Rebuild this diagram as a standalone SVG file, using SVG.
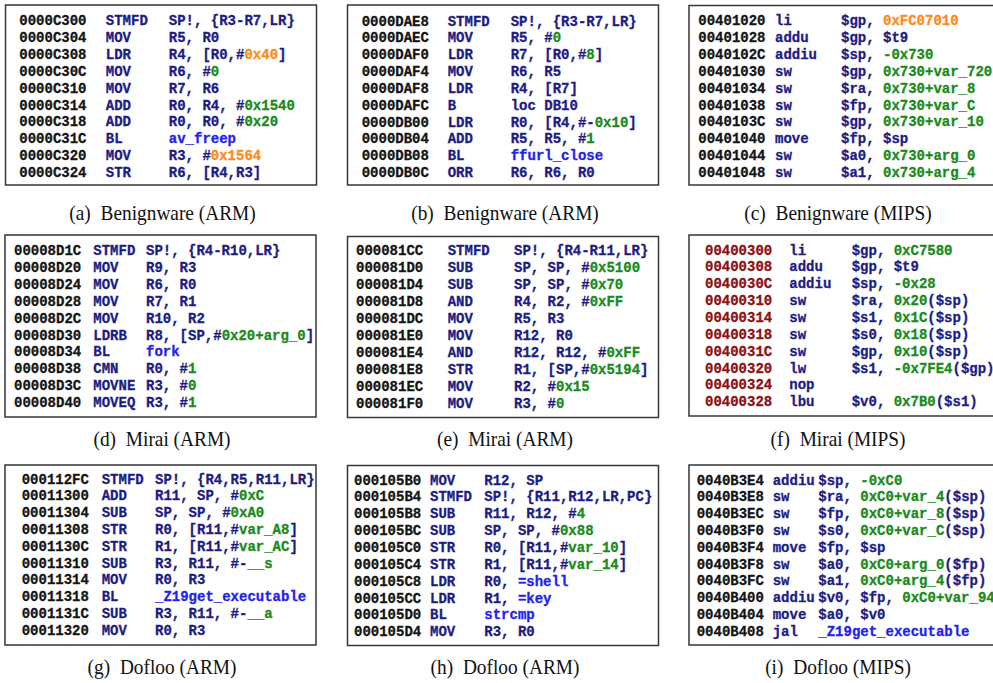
<svg xmlns="http://www.w3.org/2000/svg" width="993" height="683" viewBox="0 0 993 683">
  <style>
    .box { fill: #ffffff; stroke: #363636; stroke-width: 1.5; }
    .code { font-family: "Liberation Mono", "DejaVu Sans Mono", monospace; font-size: 14px; font-weight: bold; fill: #1c1c84; stroke: #1c1c84; stroke-width: 0.3; }
    .ad { fill: #141414; stroke: #141414; }
    .adr { fill: #8a1212; stroke: #8a1212; }
    .n { fill: #1a8a1a; stroke: #1a8a1a; }
    .o { fill: #ff8a1c; stroke: #ff8a1c; }
    .f { fill: #2222ee; stroke: #2222ee; }
    .cap { font-family: "Liberation Serif", "Times New Roman", serif; font-size: 21.5px; fill: #111111; }
  </style>
  <rect width="993" height="683" fill="#ffffff"/>

  <!-- (a) Benignware, ARM -->
  <g id="panel-a">
    <rect class="box" x="5.5" y="5" width="311" height="180"/>
    <g class="code" transform="translate(19.3,25.3)">
      <text y="0"><tspan class="ad">0000C300</tspan><tspan x="86.5">STMFD</tspan><tspan x="149.5">SP!, {R3-R7,LR}</tspan></text>
      <text y="16.85"><tspan class="ad">0000C304</tspan><tspan x="86.5">MOV</tspan><tspan x="149.5">R5, R0</tspan></text>
      <text y="33.7"><tspan class="ad">0000C308</tspan><tspan x="86.5">LDR</tspan><tspan x="149.5">R4, [R0,#<tspan class="o">0x40</tspan>]</tspan></text>
      <text y="50.55"><tspan class="ad">0000C30C</tspan><tspan x="86.5">MOV</tspan><tspan x="149.5">R6, #<tspan class="n">0</tspan></tspan></text>
      <text y="67.4"><tspan class="ad">0000C310</tspan><tspan x="86.5">MOV</tspan><tspan x="149.5">R7, R6</tspan></text>
      <text y="84.25"><tspan class="ad">0000C314</tspan><tspan x="86.5">ADD</tspan><tspan x="149.5">R0, R4, #<tspan class="n">0x1540</tspan></tspan></text>
      <text y="101.1"><tspan class="ad">0000C318</tspan><tspan x="86.5">ADD</tspan><tspan x="149.5">R0, R0, #<tspan class="n">0x20</tspan></tspan></text>
      <text y="117.95"><tspan class="ad">0000C31C</tspan><tspan x="86.5">BL</tspan><tspan x="149.5" class="f">av_freep</tspan></text>
      <text y="134.8"><tspan class="ad">0000C320</tspan><tspan x="86.5">MOV</tspan><tspan x="149.5">R3, #<tspan class="o">0x1564</tspan></tspan></text>
      <text y="151.65"><tspan class="ad">0000C324</tspan><tspan x="86.5">STR</tspan><tspan x="149.5">R6, [R4,R3]</tspan></text>
    </g>
    <text class="cap" transform="translate(162.5,220) scale(0.9,1)" text-anchor="middle">(a)<tspan dx="5.5"> Benignware (ARM)</tspan></text>
  </g>

  <!-- (b) Benignware, ARM -->
  <g id="panel-b">
    <rect class="box" x="347.5" y="5" width="311" height="180"/>
    <g class="code" transform="translate(361.7,25.5)">
      <text y="0"><tspan class="ad">0000DAE8</tspan><tspan x="86">STMFD</tspan><tspan x="149">SP!, {R3-R7,LR}</tspan></text>
      <text y="16.85"><tspan class="ad">0000DAEC</tspan><tspan x="86">MOV</tspan><tspan x="149">R5, #<tspan class="n">0</tspan></tspan></text>
      <text y="33.7"><tspan class="ad">0000DAF0</tspan><tspan x="86">LDR</tspan><tspan x="149">R7, [R0,#<tspan class="n">8</tspan>]</tspan></text>
      <text y="50.55"><tspan class="ad">0000DAF4</tspan><tspan x="86">MOV</tspan><tspan x="149">R6, R5</tspan></text>
      <text y="67.4"><tspan class="ad">0000DAF8</tspan><tspan x="86">LDR</tspan><tspan x="149">R4, [R7]</tspan></text>
      <text y="84.25"><tspan class="ad">0000DAFC</tspan><tspan x="86">B</tspan><tspan x="149">loc DB10</tspan></text>
      <text y="101.1"><tspan class="ad">0000DB00</tspan><tspan x="86">LDR</tspan><tspan x="149">R0, [R4,#-<tspan class="n">0x10</tspan>]</tspan></text>
      <text y="117.95"><tspan class="ad">0000DB04</tspan><tspan x="86">ADD</tspan><tspan x="149">R5, R5, #<tspan class="n">1</tspan></tspan></text>
      <text y="134.8"><tspan class="ad">0000DB08</tspan><tspan x="86">BL</tspan><tspan x="149" class="f">ffurl_close</tspan></text>
      <text y="151.65"><tspan class="ad">0000DB0C</tspan><tspan x="86">ORR</tspan><tspan x="149">R6, R6, R0</tspan></text>
    </g>
    <text class="cap" transform="translate(505,220) scale(0.9,1)" text-anchor="middle">(b)<tspan dx="5.5"> Benignware (ARM)</tspan></text>
  </g>

  <!-- (c) Benignware, MIPS -->
  <g id="panel-c">
    <rect class="box" x="689" y="5.5" width="320" height="179.5"/>
    <g class="code" transform="translate(698.3,25.3)">
      <text y="0"><tspan class="ad">00401020</tspan><tspan x="76.7">li</tspan><tspan x="142.7">$gp, <tspan class="o">0xFC07010</tspan></tspan></text>
      <text y="16.85"><tspan class="ad">00401028</tspan><tspan x="76.7">addu</tspan><tspan x="142.7">$gp, $t9</tspan></text>
      <text y="33.7"><tspan class="ad">0040102C</tspan><tspan x="76.7">addiu</tspan><tspan x="142.7">$sp, <tspan class="n">-0x730</tspan></tspan></text>
      <text y="50.55"><tspan class="ad">00401030</tspan><tspan x="76.7">sw</tspan><tspan x="142.7">$gp, <tspan class="n">0x730+var_720</tspan></tspan></text>
      <text y="67.4"><tspan class="ad">00401034</tspan><tspan x="76.7">sw</tspan><tspan x="142.7">$ra, <tspan class="n">0x730+var_8</tspan></tspan></text>
      <text y="84.25"><tspan class="ad">00401038</tspan><tspan x="76.7">sw</tspan><tspan x="142.7">$fp, <tspan class="n">0x730+var_C</tspan></tspan></text>
      <text y="101.1"><tspan class="ad">0040103C</tspan><tspan x="76.7">sw</tspan><tspan x="142.7">$gp, <tspan class="n">0x730+var_10</tspan></tspan></text>
      <text y="117.95"><tspan class="ad">00401040</tspan><tspan x="76.7">move</tspan><tspan x="142.7">$fp, $sp</tspan></text>
      <text y="134.8"><tspan class="ad">00401044</tspan><tspan x="76.7">sw</tspan><tspan x="142.7">$a0, <tspan class="n">0x730+arg_0</tspan></tspan></text>
      <text y="151.65"><tspan class="ad">00401048</tspan><tspan x="76.7">sw</tspan><tspan x="142.7">$a1, <tspan class="n">0x730+arg_4</tspan></tspan></text>
    </g>
    <text class="cap" transform="translate(838,220) scale(0.9,1)" text-anchor="middle">(c)<tspan dx="5.5"> Benignware (MIPS)</tspan></text>
  </g>

  <!-- (d) Mirai, ARM -->
  <g id="panel-d">
    <rect class="box" x="5" y="235" width="311" height="182"/>
    <g class="code" transform="translate(14,255.3)">
      <text y="0"><tspan class="ad">00008D1C</tspan><tspan x="79.3">STMFD</tspan><tspan x="132">SP!, {R4-R10,LR}</tspan></text>
      <text y="16.85"><tspan class="ad">00008D20</tspan><tspan x="79.3">MOV</tspan><tspan x="132">R9, R3</tspan></text>
      <text y="33.7"><tspan class="ad">00008D24</tspan><tspan x="79.3">MOV</tspan><tspan x="132">R6, R0</tspan></text>
      <text y="50.55"><tspan class="ad">00008D28</tspan><tspan x="79.3">MOV</tspan><tspan x="132">R7, R1</tspan></text>
      <text y="67.4"><tspan class="ad">00008D2C</tspan><tspan x="79.3">MOV</tspan><tspan x="132">R10, R2</tspan></text>
      <text y="84.25"><tspan class="ad">00008D30</tspan><tspan x="79.3">LDRB</tspan><tspan x="132">R8, [SP,#<tspan class="n">0x20+arg_0</tspan>]</tspan></text>
      <text y="101.1"><tspan class="ad">00008D34</tspan><tspan x="79.3">BL</tspan><tspan x="132" class="f">fork</tspan></text>
      <text y="117.95"><tspan class="ad">00008D38</tspan><tspan x="79.3">CMN</tspan><tspan x="132">R0, #<tspan class="n">1</tspan></tspan></text>
      <text y="134.8"><tspan class="ad">00008D3C</tspan><tspan x="79.3">MOVNE</tspan><tspan x="132">R3, #<tspan class="n">0</tspan></tspan></text>
      <text y="151.65"><tspan class="ad">00008D40</tspan><tspan x="79.3">MOVEQ</tspan><tspan x="132">R3, #<tspan class="n">1</tspan></tspan></text>
    </g>
    <text class="cap" transform="translate(162,446) scale(0.9,1)" text-anchor="middle">(d)<tspan dx="5.5"> Mirai (ARM)</tspan></text>
  </g>

  <!-- (e) Mirai, ARM -->
  <g id="panel-e">
    <rect class="box" x="347.5" y="236.5" width="311" height="181"/>
    <g class="code" transform="translate(356,255.3)">
      <text y="0"><tspan class="ad">000081CC</tspan><tspan x="91.7">STMFD</tspan><tspan x="158">SP!, {R4-R11,LR}</tspan></text>
      <text y="16.9"><tspan class="ad">000081D0</tspan><tspan x="91.7">SUB</tspan><tspan x="158">SP, SP, #<tspan class="n">0x5100</tspan></tspan></text>
      <text y="33.9"><tspan class="ad">000081D4</tspan><tspan x="91.7">SUB</tspan><tspan x="158">SP, SP, #<tspan class="n">0x70</tspan></tspan></text>
      <text y="50.85"><tspan class="ad">000081D8</tspan><tspan x="91.7">AND</tspan><tspan x="158">R4, R2, #<tspan class="n">0xFF</tspan></tspan></text>
      <text y="67.8"><tspan class="ad">000081DC</tspan><tspan x="91.7">MOV</tspan><tspan x="158">R5, R3</tspan></text>
      <text y="84.75"><tspan class="ad">000081E0</tspan><tspan x="91.7">MOV</tspan><tspan x="158">R12, R0</tspan></text>
      <text y="101.7"><tspan class="ad">000081E4</tspan><tspan x="91.7">AND</tspan><tspan x="158">R12, R12, #<tspan class="n">0xFF</tspan></tspan></text>
      <text y="118.65"><tspan class="ad">000081E8</tspan><tspan x="91.7">STR</tspan><tspan x="158">R1, [SP,#<tspan class="n">0x5194</tspan>]</tspan></text>
      <text y="135.6"><tspan class="ad">000081EC</tspan><tspan x="91.7">MOV</tspan><tspan x="158">R2, #<tspan class="n">0x15</tspan></tspan></text>
      <text y="152.55"><tspan class="ad">000081F0</tspan><tspan x="91.7">MOV</tspan><tspan x="158">R3, #<tspan class="n">0</tspan></tspan></text>
    </g>
    <text class="cap" transform="translate(505,446) scale(0.9,1)" text-anchor="middle">(e)<tspan dx="5.5"> Mirai (ARM)</tspan></text>
  </g>

  <!-- (f) Mirai, MIPS -->
  <g id="panel-f">
    <rect class="box" x="689" y="235" width="320" height="181"/>
    <g class="code" transform="translate(705,254.6)">
      <text y="0"><tspan class="adr">00400300</tspan><tspan x="84.3">li</tspan><tspan x="146.7">$gp, <tspan class="n">0xC7580</tspan></tspan></text>
      <text y="16.85"><tspan class="adr">00400308</tspan><tspan x="84.3">addu</tspan><tspan x="146.7">$gp, $t9</tspan></text>
      <text y="33.7"><tspan class="adr">0040030C</tspan><tspan x="84.3">addiu</tspan><tspan x="146.7">$sp, <tspan class="n">-0x28</tspan></tspan></text>
      <text y="50.55"><tspan class="adr">00400310</tspan><tspan x="84.3">sw</tspan><tspan x="146.7">$ra, <tspan class="n">0x20</tspan>($sp)</tspan></text>
      <text y="67.4"><tspan class="adr">00400314</tspan><tspan x="84.3">sw</tspan><tspan x="146.7">$s1, <tspan class="n">0x1C</tspan>($sp)</tspan></text>
      <text y="84.25"><tspan class="adr">00400318</tspan><tspan x="84.3">sw</tspan><tspan x="146.7">$s0, <tspan class="n">0x18</tspan>($sp)</tspan></text>
      <text y="101.1"><tspan class="adr">0040031C</tspan><tspan x="84.3">sw</tspan><tspan x="146.7">$gp, <tspan class="n">0x10</tspan>($sp)</tspan></text>
      <text y="117.95"><tspan class="adr">00400320</tspan><tspan x="84.3">lw</tspan><tspan x="146.7">$s1, <tspan class="n">-0x7FE4</tspan>($gp)</tspan></text>
      <text y="134.8"><tspan class="adr">00400324</tspan><tspan x="84.3">nop</tspan></text>
      <text y="151.65"><tspan class="adr">00400328</tspan><tspan x="84.3">lbu</tspan><tspan x="146.7">$v0, <tspan class="n">0x7B0</tspan>($s1)</tspan></text>
    </g>
    <text class="cap" transform="translate(838,446) scale(0.9,1)" text-anchor="middle">(f)<tspan dx="5.5"> Mirai (MIPS)</tspan></text>
  </g>

  <!-- (g) Dofloo, ARM -->
  <g id="panel-g">
    <rect class="box" x="5" y="465" width="311" height="180"/>
    <g class="code" transform="translate(21.7,483.6)">
      <text y="0"><tspan class="ad">000112FC</tspan><tspan x="80">STMFD</tspan><tspan x="133.3">SP!, {R4,R5,R11,LR}</tspan></text>
      <text y="16.8"><tspan class="ad">00011300</tspan><tspan x="80">ADD</tspan><tspan x="133.3">R11, SP, #<tspan class="n">0xC</tspan></tspan></text>
      <text y="33.6"><tspan class="ad">00011304</tspan><tspan x="80">SUB</tspan><tspan x="133.3">SP, SP, #<tspan class="n">0xA0</tspan></tspan></text>
      <text y="50.4"><tspan class="ad">00011308</tspan><tspan x="80">STR</tspan><tspan x="133.3">R0, [R11,#<tspan class="n">var_A8</tspan>]</tspan></text>
      <text y="67.2"><tspan class="ad">0001130C</tspan><tspan x="80">STR</tspan><tspan x="133.3">R1, [R11,#<tspan class="n">var_AC</tspan>]</tspan></text>
      <text y="84"><tspan class="ad">00011310</tspan><tspan x="80">SUB</tspan><tspan x="133.3">R3, R11, #-<tspan class="n">__s</tspan></tspan></text>
      <text y="100.8"><tspan class="ad">00011314</tspan><tspan x="80">MOV</tspan><tspan x="133.3">R0, R3</tspan></text>
      <text y="117.6"><tspan class="ad">00011318</tspan><tspan x="80">BL</tspan><tspan x="133.3" class="f">_Z19get_executable</tspan></text>
      <text y="134.4"><tspan class="ad">0001131C</tspan><tspan x="80">SUB</tspan><tspan x="133.3">R3, R11, #-<tspan class="n">__a</tspan></tspan></text>
      <text y="151.2"><tspan class="ad">00011320</tspan><tspan x="80">MOV</tspan><tspan x="133.3">R0, R3</tspan></text>
    </g>
    <text class="cap" transform="translate(162,674) scale(0.9,1)" text-anchor="middle">(g)<tspan dx="5.5"> Dofloo (ARM)</tspan></text>
  </g>

  <!-- (h) Dofloo, ARM -->
  <g id="panel-h">
    <rect class="box" x="347.5" y="465.5" width="311" height="180"/>
    <g class="code" transform="translate(354,484.6)">
      <text y="0"><tspan class="ad">000105B0</tspan><tspan x="76">MOV</tspan><tspan x="130.3">R12, SP</tspan></text>
      <text y="16.85"><tspan class="ad">000105B4</tspan><tspan x="76">STMFD</tspan><tspan x="130.3">SP!, {R11,R12,LR,PC}</tspan></text>
      <text y="33.7"><tspan class="ad">000105B8</tspan><tspan x="76">SUB</tspan><tspan x="130.3">R11, R12, #<tspan class="n">4</tspan></tspan></text>
      <text y="50.55"><tspan class="ad">000105BC</tspan><tspan x="76">SUB</tspan><tspan x="130.3">SP, SP, #<tspan class="n">0x88</tspan></tspan></text>
      <text y="67.4"><tspan class="ad">000105C0</tspan><tspan x="76">STR</tspan><tspan x="130.3">R0, [R11,#<tspan class="n">var_10</tspan>]</tspan></text>
      <text y="84.25"><tspan class="ad">000105C4</tspan><tspan x="76">STR</tspan><tspan x="130.3">R1, [R11,#<tspan class="n">var_14</tspan>]</tspan></text>
      <text y="101.1"><tspan class="ad">000105C8</tspan><tspan x="76">LDR</tspan><tspan x="130.3">R0, <tspan class="f">=shell</tspan></tspan></text>
      <text y="117.95"><tspan class="ad">000105CC</tspan><tspan x="76">LDR</tspan><tspan x="130.3">R1, <tspan class="f">=key</tspan></tspan></text>
      <text y="134.8"><tspan class="ad">000105D0</tspan><tspan x="76">BL</tspan><tspan x="130.3" class="f">strcmp</tspan></text>
      <text y="151.65"><tspan class="ad">000105D4</tspan><tspan x="76">MOV</tspan><tspan x="130.3">R3, R0</tspan></text>
    </g>
    <text class="cap" transform="translate(505,674) scale(0.9,1)" text-anchor="middle">(h)<tspan dx="5.5"> Dofloo (ARM)</tspan></text>
  </g>

  <!-- (i) Dofloo, MIPS -->
  <g id="panel-i">
    <rect class="box" x="689" y="465" width="320" height="180"/>
    <g class="code" transform="translate(696.7,484.6)">
      <text y="0"><tspan class="ad">0040B3E4</tspan><tspan x="76">addiu</tspan><tspan x="121.6">$sp, <tspan class="n">-0xC0</tspan></tspan></text>
      <text y="16.8"><tspan class="ad">0040B3E8</tspan><tspan x="76">sw</tspan><tspan x="121.6">$ra, <tspan class="n">0xC0+var_4</tspan>($sp)</tspan></text>
      <text y="33.6"><tspan class="ad">0040B3EC</tspan><tspan x="76">sw</tspan><tspan x="121.6">$fp, <tspan class="n">0xC0+var_8</tspan>($sp)</tspan></text>
      <text y="50.4"><tspan class="ad">0040B3F0</tspan><tspan x="76">sw</tspan><tspan x="121.6">$s0, <tspan class="n">0xC0+var_C</tspan>($sp)</tspan></text>
      <text y="67.2"><tspan class="ad">0040B3F4</tspan><tspan x="76">move</tspan><tspan x="121.6">$fp, $sp</tspan></text>
      <text y="84"><tspan class="ad">0040B3F8</tspan><tspan x="76">sw</tspan><tspan x="121.6">$a0, <tspan class="n">0xC0+arg_0</tspan>($fp)</tspan></text>
      <text y="100.8"><tspan class="ad">0040B3FC</tspan><tspan x="76">sw</tspan><tspan x="121.6">$a1, <tspan class="n">0xC0+arg_4</tspan>($fp)</tspan></text>
      <text y="117.6"><tspan class="ad">0040B400</tspan><tspan x="76">addiu</tspan><tspan x="121.6">$v0, $fp, <tspan class="n">0xC0+var_94</tspan></tspan></text>
      <text y="134.4"><tspan class="ad">0040B404</tspan><tspan x="76">move</tspan><tspan x="121.6">$a0, $v0</tspan></text>
      <text y="151.2"><tspan class="ad">0040B408</tspan><tspan x="76">jal</tspan><tspan x="121.6" class="f">_Z19get_executable</tspan></text>
    </g>
    <text class="cap" transform="translate(838,674) scale(0.9,1)" text-anchor="middle">(i)<tspan dx="5.5"> Dofloo (MIPS)</tspan></text>
  </g>
</svg>
